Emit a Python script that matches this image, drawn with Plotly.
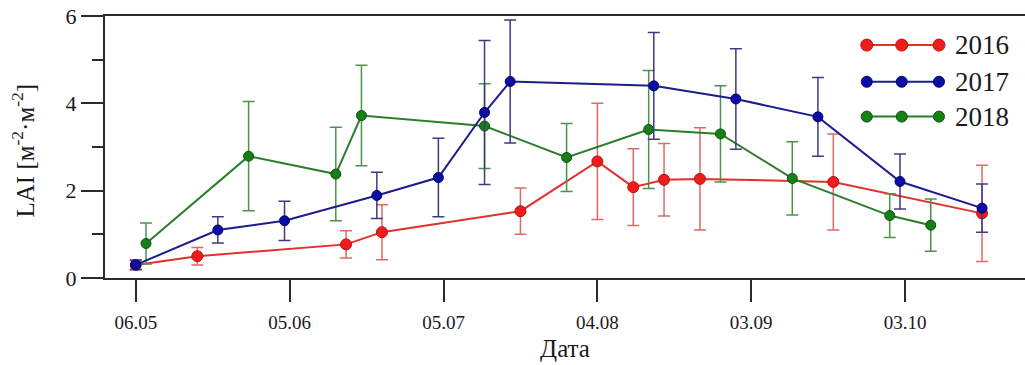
import plotly.graph_objects as go

# All three seasons are placed on one common calendar (day.month)
BASE_YEAR = 2017

dates_2016 = ["06.05", "18.05", "16.06", "23.06", "20.07", "04.08", "11.08", "17.08", "24.08", "19.09", "18.10"]
lai_2016 = [0.30, 0.50, 0.77, 1.05, 1.53, 2.67, 2.08, 2.25, 2.27, 2.20, 1.48]
err_2016 = [0.10, 0.20, 0.31, 0.63, 0.53, 1.33, 0.88, 0.83, 1.17, 1.10, 1.10]

dates_2017 = ["06.05", "22.05", "04.06", "22.06", "04.07", "13.07", "18.07", "15.08", "31.08", "16.09", "02.10", "18.10"]
lai_2017 = [0.30, 1.10, 1.31, 1.89, 2.30, 3.79, 4.50, 4.40, 4.10, 3.69, 2.21, 1.60]
err_2017 = [0.11, 0.30, 0.45, 0.53, 0.90, 1.65, 1.41, 1.22, 1.15, 0.90, 0.63, 0.55]

dates_2018 = ["08.05", "28.05", "14.06", "19.06", "13.07", "29.07", "14.08", "28.08", "11.09", "30.09", "08.10"]
lai_2018 = [0.79, 2.79, 2.38, 3.72, 3.48, 2.76, 3.40, 3.30, 2.28, 1.43, 1.21]
err_2018 = [0.47, 1.25, 1.07, 1.15, 0.97, 0.78, 1.35, 1.10, 0.84, 0.50, 0.60]

tick_labels = ["06.05", "05.06", "05.07", "04.08", "03.09", "03.10"]
years = ["2016", "2017", "2018"]


def to_date(dm):
    d, m = dm.split(".")
    return f"{BASE_YEAR}-{m}-{d}"


FONT = "Liberation Serif"
AXIS_COLOR = "#2b2b2b"
TEXT_COLOR = "#1a1a1a"

styles = {
    "2016": dict(line="#e2312b", marker="#f01c1c", edge="#b81010", err="#dc6a66", size=11),
    "2017": dict(line="#1c1c8c", marker="#0c0ca6", edge="#05055e", err="#3c3c84", size=10),
    "2018": dict(line="#2a7d2a", marker="#168016", edge="#0b520b", err="#4a944a", size=10),
}

series = {
    "2016": (dates_2016, lai_2016, err_2016),
    "2017": (dates_2017, lai_2017, err_2017),
    "2018": (dates_2018, lai_2018, err_2018),
}

fig = go.Figure()

for yr in ["2016", "2018", "2017"]:
    d, v, e = series[yr]
    s = styles[yr]
    fig.add_trace(go.Scatter(
        x=[to_date(x) for x in d], y=v,
        mode="lines+markers",
        line=dict(color=s["line"], width=2),
        marker=dict(size=s["size"], color=s["marker"], line=dict(color=s["edge"], width=1)),
        error_y=dict(type="data", array=e, visible=True, color=s["err"], thickness=1.5, width=6),
        showlegend=False, name=yr,
    ))

# Hand-drawn legend: three markers on a line per year, on an overlay axis spanning the plot
leg_x = [0.828, 0.866, 0.9065]
leg_y = {"2016": 0.889, "2017": 0.749, "2018": 0.616}
leg_text_x = 0.922
for yr in years:
    s = styles[yr]
    fig.add_trace(go.Scatter(
        x=leg_x, y=[leg_y[yr]] * 3, xaxis="x2", yaxis="y2",
        mode="lines+markers",
        line=dict(color=s["line"], width=2),
        marker=dict(size=s["size"] + 1, color=s["marker"], line=dict(color=s["edge"], width=1)),
        showlegend=False, hoverinfo="skip",
    ))
    fig.add_annotation(
        x=leg_text_x, y=leg_y[yr], xref="x2", yref="y2", text=yr,
        showarrow=False, xanchor="left", yanchor="middle",
        font=dict(family=FONT, size=27, color=TEXT_COLOR),
    )

fig.add_annotation(
    x=-0.0886, y=0.4885, xref="paper", yref="paper",
    text="LAI [м<sup>-2</sup>·м<sup>-2</sup>]", textangle=-90,
    showarrow=False, xanchor="center", yanchor="middle",
    font=dict(family=FONT, size=25, color=TEXT_COLOR),
)

fig.update_layout(
    width=1025, height=365,
    margin=dict(l=105, r=0, t=16, b=87),
    paper_bgcolor="white", plot_bgcolor="white",
    xaxis=dict(
        range=[f"{BASE_YEAR}-04-30", f"{BASE_YEAR}-10-26 09:00"],
        tickvals=[to_date(t) for t in tick_labels], ticktext=tick_labels,
        ticks="outside", ticklen=22, tickwidth=2, tickcolor=AXIS_COLOR,
        ticklabelstandoff=4,
        showline=True, linecolor=AXIS_COLOR, linewidth=2, mirror=True,
        showgrid=False, zeroline=False,
        tickfont=dict(family=FONT, size=19, color=TEXT_COLOR),
        title=dict(text="Дата", font=dict(family=FONT, size=25, color=TEXT_COLOR), standoff=8),
    ),
    yaxis=dict(
        range=[0, 6], tickvals=[0, 2, 4, 6], ticktext=["0", "2", "4", "6"],
        ticks="outside", ticklen=22, tickwidth=2, tickcolor=AXIS_COLOR,
        minor=dict(dtick=1, ticks="outside", ticklen=11, tickwidth=2, tickcolor=AXIS_COLOR, showgrid=False),
        showline=True, linecolor=AXIS_COLOR, linewidth=2,
        showgrid=False, zeroline=False,
        tickfont=dict(family=FONT, size=22, color=TEXT_COLOR),
    ),
    xaxis2=dict(range=[0, 1], overlaying="x", visible=False, fixedrange=True),
    yaxis2=dict(range=[0, 1], overlaying="y", visible=False, fixedrange=True),
)

fig.write_html("out.html")
